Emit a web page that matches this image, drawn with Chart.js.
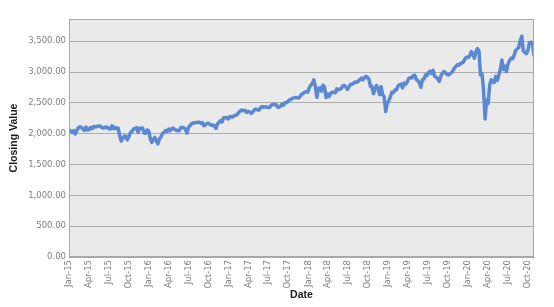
<!DOCTYPE html>
<html>
<head>
<meta charset="utf-8">
<script src="https://cdn.jsdelivr.net/npm/chart.js@4/dist/chart.umd.min.js"></script>
<style>
html,body{margin:0;padding:0;background:#fff;}
#wrap{width:554px;height:307px;}
</style>
</head>
<body>
<div id="wrap"><canvas id="c" width="554" height="307"></canvas></div>
<script>
// Weekly closing values (Fridays), starting 2015-01-02
const startDate = '2015-01-02';
const v2015 = [2058,2044,2019,2051,1995, 2055,2097,2110,2104, 2071,2053,2108,2061, 2067,2102,2081,2117,
  2108,2116,2123,2126,2107, 2092,2094,2110,2101, 2077,2076,2127,2079,2104, 2078,2092,1971,1880,
  1921,1961,1958,1900, 1951,2015,2033,2075,2079, 2099,2023,2089,2090, 2092,2012,2006,2061, 2044];
const v2016 = [1922,1860,1907,1940, 1880,1835,1917,1948, 2000,2022,2050,2036, 2073,2048,2081,2092,2065,
  2057,2047,2052,2099, 2099,2096,2071,2010, 2103,2130,2162,2175,2174, 2183,2184,2184,2169,
  2180,2128,2139,2165,2168, 2153,2133,2141,2126, 2085,2164,2182,2213, 2192,2259,2258,2264,2239];
const v2017 = [2277,2275,2271,2295, 2297,2316,2351,2367, 2383,2373,2378,2344,2363, 2355,2329,2349,2384,
  2399,2390,2382,2416, 2439,2432,2433,2438,2423, 2425,2459,2473,2472, 2477,2441,2426,2443,
  2477,2461,2500,2502,2519, 2549,2553,2575,2581, 2588,2582,2579,2602, 2642,2651,2675,2683,2674];
const v2018 = [2743,2786,2810,2873, 2762,2590,2732,2747, 2691,2786,2752,2588,2641, 2604,2656,2670,2670,
  2663,2728,2713,2721, 2735,2779,2780,2755,2718, 2760,2801,2802,2819, 2840,2833,2850,2875,2902,
  2872,2905,2930,2914, 2886,2767,2768,2650, 2723,2781,2736,2633,2760, 2633,2600,2360,2486];
const v2019 = [2532,2596,2671,2665, 2707,2708,2776,2793, 2804,2743,2822,2800,2834, 2893,2907,2905,2940,
  2946,2881,2860,2826,2752, 2873,2887,2950,2942, 2990,3014,2977,3026, 2932,2919,2889,2847,2926,
  2979,3007,2992,2962, 2952,2970,2986,3023, 3067,3093,3120,3110,3141, 3146,3169,3221,3240];
const v2020 = [3235,3265,3330,3295,3226, 3328,3380,3338,2954, 2972,2711,2240,2541, 2489,2790,2875,2837,
  2831,2930,2864,2955,3044, 3194,3041,3098,3009, 3130,3185,3225,3216,3271, 3351,3373,3397,3508,
  3580,3341,3319,3298, 3348,3477,3484,3465,3270];
const closingValues = [].concat(v2015, v2016, v2017, v2018, v2019, v2020);

const tickLabels = ['Jan-15','Apr-15','Jul-15','Oct-15','Jan-16','Apr-16','Jul-16','Oct-16',
  'Jan-17','Apr-17','Jul-17','Oct-17','Jan-18','Apr-18','Jul-18','Oct-18',
  'Jan-19','Apr-19','Jul-19','Oct-19','Jan-20','Apr-20','Jul-20','Oct-20'];
const yTicks = [0,500,1000,1500,2000,2500,3000,3500];

const DAY = 86400000;
const origin = Date.UTC(2015,0,1);
const start = Date.parse(startDate + 'T00:00:00Z');
const points = closingValues.map((v,i) => ({x: (start - origin)/DAY + i*7, y: v}));
const quarterDays = tickLabels.map((l,i) => (Date.UTC(2015 + Math.floor(i/4), (i%4)*3, 1) - origin)/DAY);
const xMax = points[points.length-1].x;

const plotBg = {
  id:'plotBg',
  beforeDraw(chart){
    const {ctx, chartArea:a} = chart;
    ctx.save(); ctx.fillStyle = '#eaeaea';
    ctx.fillRect(a.left, a.top, a.right-a.left, a.bottom-a.top); ctx.restore();
  },
  afterDraw(chart){
    const {ctx, chartArea:a} = chart;
    ctx.save(); ctx.strokeStyle = '#a8a8a8'; ctx.lineWidth = 1;
    ctx.strokeRect(Math.round(a.left)+0.5, Math.round(a.top)+0.5, Math.round(a.right-a.left)-1, Math.round(a.bottom-a.top)-1);
    ctx.restore();
  }
};

new Chart(document.getElementById('c'), {
  type:'line',
  data:{datasets:[{data:points, borderColor:'#5b88d3', borderWidth:3.5, pointRadius:0, tension:0, fill:false,
    borderJoinStyle:'round', borderCapStyle:'round'}]},
  options:{
    responsive:false, animation:false,
    layout:{padding:{left:4, right:20, top:19, bottom:4}},
    plugins:{legend:{display:false}, tooltip:{enabled:false}},
    scales:{
      x:{type:'linear', min:0, max:xMax,
        afterBuildTicks(s){ s.ticks = quarterDays.map(v => ({value:v})); },
        afterFit(s){ s.height = 307 - 257 - 4; },
        grid:{display:false, drawTicks:false},
        border:{display:true, color:'#a8a8a8'},
        ticks:{autoSkip:false, minRotation:90, maxRotation:90, padding:3, color:'#808080',
          font:{family:'DejaVu Sans', size:8.5},
          callback:(v,i) => tickLabels[i]},
        title:{display:true, text:'Date', color:'#1a1a1a', padding:{top:2,bottom:2},
          font:{family:'Liberation Sans', size:10.5, weight:'bold'}}
      },
      y:{min:0, max:3860,
        afterBuildTicks(s){ s.ticks = yTicks.map(v => ({value:v})); },
        afterFit(s){ s.width = 69 - 4; },
        grid:{color:'#adadad', lineWidth:1, drawTicks:false},
        border:{display:true, color:'#a8a8a8'},
        ticks:{padding:3, color:'#808080', font:{family:'DejaVu Sans', size:8.5},
          callback:v => Number(v).toLocaleString('en-US',{minimumFractionDigits:2, maximumFractionDigits:2})},
        title:{display:true, text:'Closing Value', color:'#1a1a1a', padding:{top:4,bottom:4},
          font:{family:'Liberation Sans', size:10.5, weight:'bold'}}
      }
    }
  },
  plugins:[plotBg]
});
</script>
</body>
</html>
